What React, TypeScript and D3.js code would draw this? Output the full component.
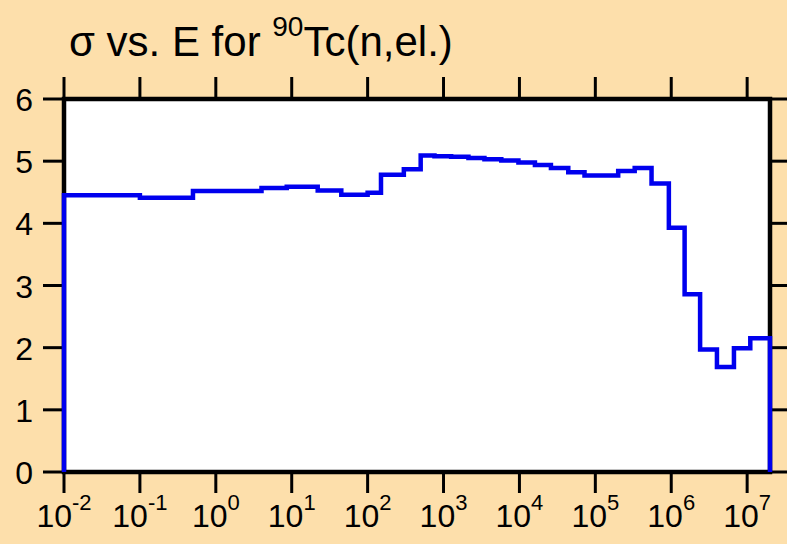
import { useMemo } from 'react'
import * as d3 from 'd3'

// bin edges (eV) and elastic cross section (b) per bin
const binEdges = [
  0.01, 0.1, 0.5, 4, 8.6, 22, 45, 100, 150, 300, 500, 760, 1260, 2130, 3460, 5770, 9700,
  1.6e4, 2.6e4, 4.4e4, 7.2e4, 2.0e5, 3.3e5, 5.5e5, 9.3e5, 1.5e6, 2.4e6, 4.0e6, 6.7e6, 1.1e7, 2.0e7,
]
const sigma = [
  4.45, 4.41, 4.52, 4.57, 4.59, 4.53, 4.46, 4.49, 4.78, 4.87, 5.09, 5.08, 5.07, 5.05, 5.03,
  5.01, 4.98, 4.94, 4.89, 4.82, 4.77, 4.84, 4.89, 4.64, 3.93, 2.86, 1.97, 1.69, 1.99, 2.15,
]
const xTickExp = [-2, -1, 0, 1, 2, 3, 4, 5, 6, 7]
const yTicks = [0, 1, 2, 3, 4, 5, 6]

const W = 787
const H = 544
const M = { left: 64, right: 770, top: 99, bottom: 472 }
const BG = '#fddfab'
const FONT = '"Liberation Sans", Arial, sans-serif'

export default function App() {
  const x = useMemo(() => d3.scaleLog().domain([0.01, 2e7]).range([M.left, M.right]), [])
  const y = useMemo(() => d3.scaleLinear().domain([0, 6]).range([M.bottom, M.top]), [])

  const path = useMemo(() => {
    const pts: Array<[number, number]> = [[binEdges[0], 0]]
    sigma.forEach((s, i) => pts.push([binEdges[i], s]))
    pts.push([binEdges[binEdges.length - 1], sigma[sigma.length - 1]])
    pts.push([binEdges[binEdges.length - 1], 0])
    return d3
      .line<[number, number]>()
      .x((d) => x(d[0]))
      .y((d) => y(d[1]))
      .curve(d3.curveStepAfter)(pts)
  }, [x, y])

  const tick = 20

  return (
    <div style={{ position: 'fixed', left: 0, top: 0, width: W, height: H }}>
      <svg width={W} height={H} viewBox={`0 0 ${W} ${H}`} style={{ display: 'block', fontFamily: FONT }}>
        <rect width={W} height={H} fill={BG} />
        <rect x={M.left} y={M.top} width={M.right - M.left} height={M.bottom - M.top} fill="#fff" />

        <text x={69} y={56} fontSize={42} fill="#000">
          σ vs. E for <tspan fontSize={28} dy={-20}>90</tspan>
          <tspan dy={20}>Tc(n,el.)</tspan>
        </text>

        {/* x ticks top and bottom */}
        {xTickExp.map((e) => {
          const px = x(Math.pow(10, e))
          return (
            <g key={e}>
              <line x1={px} x2={px} y1={M.top} y2={M.top - tick - 2} stroke="#000" strokeWidth={3} />
              <line x1={px} x2={px} y1={M.bottom} y2={M.bottom + tick + 1} stroke="#000" strokeWidth={3} />
              <text x={px} y={527} textAnchor="middle" fontSize={32} fill="#000">
                10<tspan fontSize={22} dy={-17}>{e}</tspan>
              </text>
            </g>
          )
        })}

        {/* y ticks left and right */}
        {yTicks.map((v) => {
          const py = y(v)
          return (
            <g key={v}>
              <line x1={M.left} x2={M.left - tick - 1} y1={py} y2={py} stroke="#000" strokeWidth={3} />
              <line x1={M.right} x2={M.right + tick} y1={py} y2={py} stroke="#000" strokeWidth={3} />
              <text x={33} y={py + 12} textAnchor="end" fontSize={32} fill="#000">
                {v}
              </text>
            </g>
          )
        })}

        <rect
          x={M.left}
          y={M.top}
          width={M.right - M.left}
          height={M.bottom - M.top}
          fill="none"
          stroke="#000"
          strokeWidth={4.5}
        />

        <path d={path ?? ''} fill="none" stroke="#0000ee" strokeWidth={4.5} strokeLinejoin="miter" />
      </svg>
    </div>
  )
}
